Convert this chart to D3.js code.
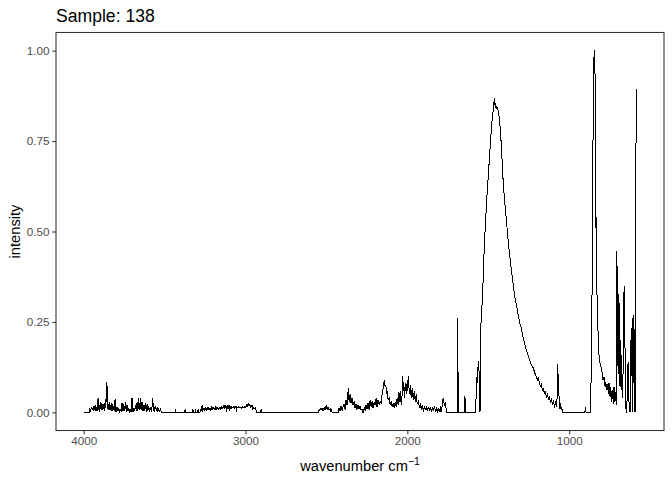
<!DOCTYPE html>
<html>
<head>
<meta charset="utf-8">
<script src="https://cdn.jsdelivr.net/npm/d3@7"></script>
<style>
  html, body { margin: 0; padding: 0; background: #ffffff; }
  svg { display: block; font-family: "Liberation Sans", Arial, sans-serif; }
</style>
</head>
<body>
<svg id="chart" width="672" height="480"></svg>
<script>
// ---- data ----
const chartTitle = "Sample: 138";
const xTicks = [4000, 3000, 2000, 1000];
const yTicks = [0, 0.25, 0.5, 0.75, 1];

const wavenumber = [
  // 4000 - 3520
  4000,3966,3963,3957,3952,3947,3944,3940,3936,3932,
  3928,3924,3920,3915,3911,3907,3903,3900,3897,3892,
  3887,3881,3876,3871,3866,3863,3860,3858,3856,3853,
  3850,3845,3841,3837,3833,3829,3825,3820,3814,3810,
  3806,3800,3794,3788,3783,3777,3773,3768,3763,3757,
  3752,3747,3742,3737,3732,3726,3721,3715,3711,3706,
  3701,3695,3690,3685,3680,3675,3670,3665,3660,3655,
  3649,3646,3643,3639,3635,3631,3627,3623,3618,3613,
  3608,3603,3598,3593,3587,3580,3573,3569,3565,3561,
  3556,3551,3546,3541,3536,3531,3525,3520,
  // sparse spikes
  3435,3432,3429,3376,3373,3370,3328,3325,3322,3312,
  3309,3306,3295,3292,3289,3281,
  // 3278 - 2932
  3278,3273,3268,3264,3257,3251,3245,3239,3232,3226,
  3220,3214,3208,3202,3195,3189,3183,3177,3171,3164,
  3158,3152,3146,3140,3133,3127,3121,3117,3112,3107,
  3102,3098,3093,3088,3084,3078,3072,3065,3059,3057,
  3053,3047,3041,3035,3028,3022,3016,3010,3004,2997,
  2991,2985,2983,2979,2973,2967,2960,2954,2948,2942,
  2938,2932,
  2906,2903,2900,2548,
  // 2545 - 2425
  2545,2541,2537,2533,2527,2521,2514,2508,2502,2496,
  2490,2484,2477,2474,2469,2465,2425,
  // 2422 - 1757
  2422,2416,2410,2403,2397,2391,2385,2379,2373,2369,
  2364,2360,2354,2348,2342,2336,2329,2323,2317,2311,
  2305,2298,2292,2286,2280,2277,2271,2266,2261,2255,
  2249,2243,2236,2230,2224,2218,2212,2205,2199,2193,
  2187,2181,2174,2168,2162,2156,2150,2146,2142,2137,
  2133,2128,2123,2119,2112,2106,2100,2094,2088,2081,
  2075,2069,2063,2057,2054,2050,2044,2038,2032,2029,
  2026,2022,2017,2013,2009,2005,2001,1997,1993,1988,
  1982,1976,1970,1963,1957,1951,1945,1939,1932,1926,
  1920,1914,1908,1901,1895,1889,1883,1877,1871,1864,
  1858,1852,1846,1840,1833,1827,1821,1815,1809,1803,
  1796,1792,1787,1782,1778,1772,1766,1760,1757,
  // isolated spikes
  1693,1690,1688,1686,1647,1644,1641,1578,
  // main band
  1575,1571,1567,1565,1561,1555,1551,1547,1545,1543,
  1535,1529,1520,1510,1499,1489,1479,1468,1462,1459,
  1456,1452,1448,1443,1440,1436,1431,1427,1421,1415,
  1411,1405,1398,1392,1386,1378,1369,1359,1348,1338,
  1328,1317,1307,1297,1286,1276,1266,1255,1245,1239,
  1233,1227,1221,1215,1208,1202,1196,1190,1184,1178,
  1171,1165,1159,1153,1147,1141,1134,1128,1122,1116,
  1110,1103,1097,1091,1085,1079,1075,1071,1066,1062,
  1058,1054,1050,1046,1041,
  // 903 - 585
  903,900,898,896,868,866,863,856,852,846,
  842,840,838,836,834,830,826,820,816,811,
  805,799,795,791,785,778,774,768,764,758,
  754,747,743,737,733,727,723,717,712,709,
  706,702,698,694,690,686,681,678,671,665,
  661,657,653,648,644,640,636,632,628,624,
  619,616,611,607,603,598,594,591,588,585
];

const intensity = [
  // 4000 - 3520
  0,0,.012,.004,.015,.006,.012,.005,.018,.007,
  .02,.004,.015,.003,.039,.006,.02,.002,.03,.008,
  .025,.006,.022,.004,.038,.012,.07,.03,.085,.01,
  .025,.006,.03,.008,.02,.005,.025,.003,.018,.004,
  .036,.002,.015,.003,.012,0,.01,.002,.026,.004,
  .022,.003,.03,.002,.02,.004,.012,0,.008,0,
  .04,.002,.01,.003,.02,.004,.028,.003,.04,.006,
  .04,.01,.028,.004,.03,.005,.02,.003,.025,.002,
  .022,.004,.017,.002,.015,0,.04,.004,.015,.002,
  .018,.003,.015,.002,.01,.003,.008,0,
  // sparse spikes
  0,.009,0,0,.01,0,0,.009,0,0,
  .01,0,0,.01,0,0,
  // 3278 - 2932
  .01,.004,.021,.006,.012,.005,.013,.006,.014,.007,
  .012,.006,.015,.008,.013,.007,.016,.009,.014,.008,
  .015,.007,.017,.01,.02,.01,.021,0,.019,.012,
  .02,.003,.018,.012,.016,.012,.017,.011,.016,0,
  .015,.012,.016,.012,.015,.011,.016,.012,.017,.014,
  .022,.016,.025,.018,.022,.014,.02,.008,.013,.01,
  .012,0,
  0,.01,0,0,
  // 2545 - 2425
  .01,.004,.013,.006,.012,.005,.013,.007,.02,.008,
  .014,.006,.009,0,.01,0,0,
  // 2422 - 1757
  .012,.004,.018,.006,.015,.024,.008,.033,.02,.045,
  .068,.03,.05,.025,.04,.02,.03,.012,.022,.008,
  .02,.01,.018,.006,.01,0,0,.015,.005,.02,
  .01,.025,.008,.035,.015,.03,.012,.028,.02,.04,
  .015,.035,.02,.03,.025,.05,.065,.08,.09,.07,
  .075,.05,.06,.035,.04,.02,.03,.015,.025,.012,
  .028,.015,.04,.02,.055,.03,.06,.02,.05,.1,
  .06,.085,.04,.07,.08,.05,.09,.06,.1,.05,
  .075,.04,.066,.035,.06,.03,.05,.025,.03,.015,
  .022,.01,.018,.006,.016,.008,.015,.003,.014,.007,
  .013,.004,.012,.006,.015,.005,.012,.002,.01,.004,
  .012,0,.01,.03,.04,.02,.025,.008,0,
  // isolated spikes
  0,.262,.24,0,0,.045,0,0,
  // main band
  .05,.097,.08,.11,.143,.1,0,.2,.245,.27,
  .32,.41,.5,.585,.66,.73,.796,.84,.869,.85,
  .855,.84,.845,.84,.836,.83,.81,.79,.75,.7,
  .66,.62,.58,.55,.52,.48,.44,.4,.36,.325,
  .3,.275,.25,.235,.21,.19,.175,.16,.145,.138,
  .132,.125,.125,.11,.105,.098,.09,.095,.08,.072,
  .078,.06,.068,.05,.058,.04,.052,.035,.045,.025,
  .04,.02,.035,.012,.03,.015,.04,.134,.06,.04,
  .01,.025,.008,.015,0,
  // 903 - 585
  0,.015,.01,0,0,.06,.143,.456,.828,.998,
  1,.916,.833,.511,.54,.4,.244,.217,.16,.14,
  .13,.116,.105,.089,.098,.07,.085,.061,.079,.052,
  .08,.042,.07,.03,.061,.024,.07,.03,.055,.02,
  .447,.327,.107,.327,.272,.07,.2,.1,.04,.153,
  .35,.29,.05,0,0,.107,.14,.04,.015,0,
  .2,.1,.26,0,.27,0,.23,0,.686,.893
];

// ---- layout ----
const panel = { left: 56, right: 664, top: 32.5, bottom: 430.5 };
const svg = d3.select("#chart");

const data = wavenumber.map((w, i) => ({ w: w, v: intensity[i] }));

const [wMin, wMax] = d3.extent(wavenumber);
const wPad = (wMax - wMin) * 0.05;
const x = d3.scaleLinear()
  .domain([wMax + wPad, wMin - wPad])
  .range([panel.left, panel.right]);

const [vMin, vMax] = d3.extent(intensity);
const vPad = (vMax - vMin) * 0.05;
const y = d3.scaleLinear()
  .domain([vMin - vPad, vMax + vPad])
  .range([panel.bottom, panel.top]);

// spectrum line
const line = d3.line().x(d => x(d.w)).y(d => y(d.v));
svg.append("path")
  .datum(data)
  .attr("fill", "none")
  .attr("stroke", "#000000")
  .attr("stroke-width", 1)
  .attr("shape-rendering", "crispEdges")
  .attr("d", line);

// panel border
svg.append("rect")
  .attr("x", panel.left)
  .attr("y", panel.top)
  .attr("width", panel.right - panel.left)
  .attr("height", panel.bottom - panel.top)
  .attr("fill", "none")
  .attr("stroke", "#333333")
  .attr("stroke-width", 1.07);

// axes
const tickLen = 3.65, tickPad = 2.9;
const xAxis = svg.append("g")
  .attr("transform", `translate(0,${panel.bottom})`)
  .call(d3.axisBottom(x).tickValues(xTicks).tickSize(tickLen).tickPadding(tickPad).tickFormat(d3.format("d")));
const yAxis = svg.append("g")
  .attr("transform", `translate(${panel.left},0)`)
  .call(d3.axisLeft(y).tickValues(yTicks).tickSize(tickLen).tickPadding(tickPad).tickFormat(d3.format(".2f")));

[xAxis, yAxis].forEach(g => {
  g.select(".domain").remove();
  g.selectAll(".tick line").attr("stroke", "#333333").attr("stroke-width", 1.07);
  g.selectAll(".tick text")
    .attr("fill", "#4D4D4D")
    .style("font-size", "11.7px")
    .style("font-family", '"Liberation Sans", Arial, sans-serif');
});

// axis titles
const xt = svg.append("text")
  .attr("x", (panel.left + panel.right) / 2)
  .attr("y", 471)
  .attr("text-anchor", "middle")
  .attr("fill", "#000000")
  .style("font-size", "14.7px");
xt.append("tspan").text("wavenumber cm");
xt.append("tspan").attr("dy", "-6").style("font-size", "10.5px").text("\u22121");

svg.append("text")
  .attr("transform", `translate(19.5,${(panel.top + panel.bottom) / 2}) rotate(-90)`)
  .attr("text-anchor", "middle")
  .attr("fill", "#000000")
  .style("font-size", "14.7px")
  .text("intensity");

// title
svg.append("text")
  .attr("x", panel.left)
  .attr("y", 21.5)
  .attr("fill", "#000000")
  .style("font-size", "17.6px")
  .text(chartTitle);
</script>
</body>
</html>
